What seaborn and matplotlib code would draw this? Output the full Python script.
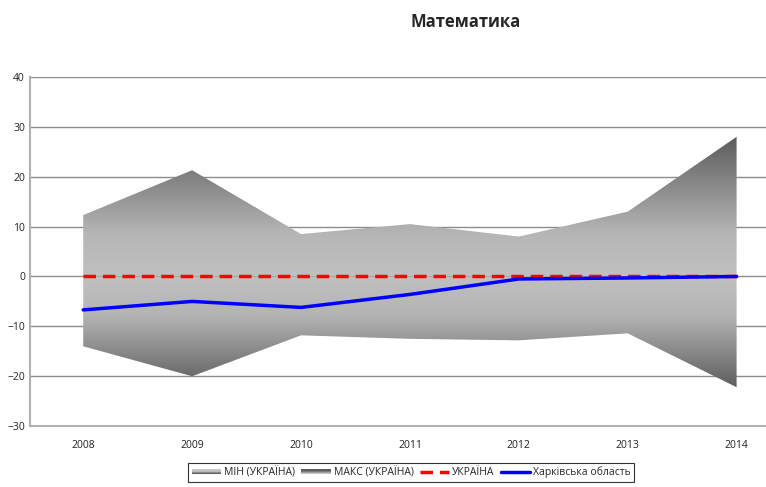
import numpy as np
import pandas as pd
import matplotlib
matplotlib.use("Agg")
import matplotlib.pyplot as plt
import seaborn as sns
from matplotlib.colors import LinearSegmentedColormap
from matplotlib.legend_handler import HandlerBase
from matplotlib.patches import Rectangle
from matplotlib.lines import Line2D

years = [2008, 2009, 2010, 2011, 2012, 2013, 2014]
max_ukr = [12.3, 21.3, 8.5, 10.5, 8.0, 13.0, 28.0]
min_ukr = [-14.0, -20.0, -11.8, -12.5, -12.8, -11.4, -22.2]
ukraine = [0, 0, 0, 0, 0, 0, 0]
kharkiv = [-6.7, -5.0, -6.2, -3.6, -0.5, -0.3, 0.0]

sns.set_theme(style="white")
plt.rcParams["font.family"] = ["Open Sans", "DejaVu Sans"]

fig = plt.figure(figsize=(7.66, 4.87), dpi=100)
ax = fig.add_axes([0.039, 0.125, 0.961, 0.717])

df = pd.DataFrame({"year": years, "ukr": ukraine, "kh": kharkiv})

x0, x1 = 2007.51, 2014.27
ax.set_xlim(x0, x1)
ax.set_ylim(-30, 40)

for y in range(-20, 41, 10):
    ax.axhline(y, color="#8c8c8c", lw=1, zorder=1)

# gradient bands clipped to area polygons
grad_up = LinearSegmentedColormap.from_list(
    "up", [(0, "#c0c0c0"), (0.3, "#b6b6b6"), (1, "#5c5c5c")])
grad_dn = LinearSegmentedColormap.from_list(
    "dn", [(0, "#c0c0c0"), (0.35, "#b4b4b4"), (1, "#5e5e5e")])
zeros = np.zeros(len(years))

poly_up = ax.fill_between(years, zeros, max_ukr, facecolor="none", lw=0)
top = max(max_ukr)
img = ax.imshow(np.linspace(0, 1, 256).reshape(-1, 1), cmap=grad_up, aspect="auto",
                origin="lower", extent=[years[0], years[-1], 0, top], zorder=2)
img.set_clip_path(poly_up.get_paths()[0], transform=ax.transData)

poly_dn = ax.fill_between(years, min_ukr, zeros, facecolor="none", lw=0)
bot = min(min_ukr)
img2 = ax.imshow(np.linspace(0, 1, 256).reshape(-1, 1), cmap=grad_dn, aspect="auto",
                 origin="upper", extent=[years[0], years[-1], bot, 0], zorder=2)
img2.set_clip_path(poly_dn.get_paths()[0], transform=ax.transData)

ax.set_xlim(x0, x1)
ax.set_ylim(-30, 40)

sns.lineplot(data=df, x="year", y="ukr", ax=ax, color="#ff0000", lw=2.5,
             dashes=False, zorder=3, legend=False)
ax.lines[-1].set_dashes([3.6, 2])
sns.lineplot(data=df, x="year", y="kh", ax=ax, color="#0000ff", lw=2.5,
             zorder=4, legend=False)

ax.set_xticks(years)
ax.set_xticklabels([str(y) for y in years])
ax.set_yticks(range(-30, 41, 10))
ax.tick_params(axis="both", length=0, labelsize=7.5, colors="#222222")
ax.tick_params(axis="x", pad=10)
ax.set_xlabel("")
ax.set_ylabel("")
for side in ["top", "right"]:
    ax.spines[side].set_visible(False)
for side in ["left", "bottom"]:
    ax.spines[side].set_color("#b0b0b0")
    ax.spines[side].set_linewidth(1.5)

fig.text(0.608, 0.955, "Математика", ha="center", va="center",
         fontsize=12, fontweight="bold")


class GradHandler(HandlerBase):
    def __init__(self, cols):
        super().__init__()
        self.cols = cols

    def create_artists(self, legend, orig, xd, yd, w, h, fs, trans):
        n = len(self.cols)
        arts = []
        for i, c in enumerate(self.cols):
            r = Rectangle((xd, yd + h * 0.2 + i * h * 0.6 / n), w, h * 0.6 / n,
                          facecolor=c, edgecolor="none", transform=trans)
            arts.append(r)
        return arts


h_min = Rectangle((0, 0), 1, 1)
h_max = Rectangle((0, 0), 1, 1)
h_ukr = Line2D([], [], color="#ff0000", lw=2.5, dashes=[3.6, 2])
h_kh = Line2D([], [], color="#0000ff", lw=2.5)
leg = fig.legend([h_min, h_max, h_ukr, h_kh],
                 ["МІН (УКРАЇНА)", "МАКС (УКРАЇНА)", "УКРАЇНА", "Харківська область"],
                 handler_map={h_min: GradHandler(["#5e5e5e", "#8a8a8a", "#b8b8b8", "#c4c4c4"]),
                              h_max: GradHandler(["#c4c4c4", "#a0a0a0", "#7a7a7a", "#5c5c5c"])},
                 loc="center", bbox_to_anchor=(0.537, 0.03), ncol=4, fontsize=7.5,
                 frameon=True, fancybox=False, edgecolor="#000000", handlelength=2.8,
                 handletextpad=0.3, columnspacing=0.6, borderpad=0.35)
leg.get_frame().set_linewidth(0.8)

fig.savefig("out.png", dpi=100)
